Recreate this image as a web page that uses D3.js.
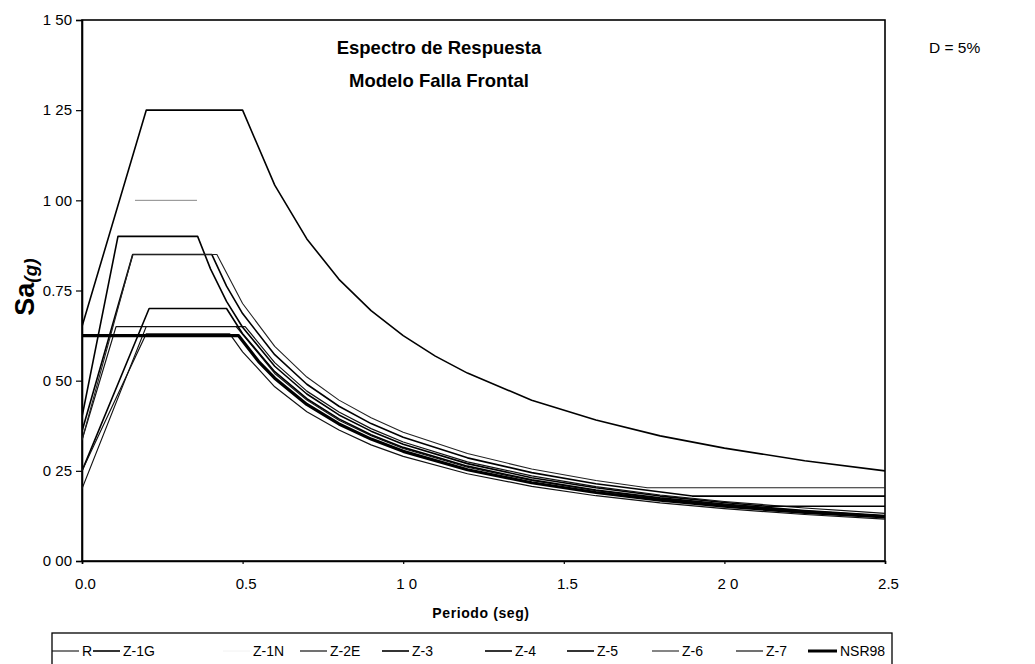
<!DOCTYPE html>
<html><head><meta charset="utf-8">
<script src="https://cdn.jsdelivr.net/npm/d3@7"></script>
<style>
body{margin:0;background:#fff;}
svg{display:block;font-family:"Liberation Sans",Arial,sans-serif;}
</style></head>
<body><svg id="c" width="1035" height="664"></svg>
<script>
// ---- data ----
const seriesNames = ["R","Z-1G","Z-1N","Z-2E","Z-3","Z-4","Z-5","Z-6","Z-7","NSR98"];
const T_R    = [0, 0.2, 0.48, 0.6, 0.7, 0.8, 0.9, 1.0, 1.2, 1.4, 1.6, 1.8, 2.0, 2.25, 2.5];
const Sa_R   = [0.20, 0.65, 0.65, 0.52, 0.446, 0.39, 0.347, 0.312, 0.26, 0.223, 0.195, 0.173, 0.156, 0.139, 0.125];
const T_Z1G  = [0, 0.2, 0.5, 0.6, 0.7, 0.8, 0.9, 1.0, 1.1, 1.2, 1.4, 1.6, 1.8, 2.0, 2.25, 2.5];
const Sa_Z1G = [0.65, 1.25, 1.25, 1.042, 0.893, 0.781, 0.694, 0.625, 0.568, 0.521, 0.446, 0.391, 0.347, 0.313, 0.278, 0.25];
const T_Z1N  = [0.165, 0.358];
const Sa_Z1N = [1.0, 1.0];
const T_Z2E  = [0, 0.106, 0.508, 0.6, 0.7, 0.8, 0.9, 1.0, 1.2, 1.4, 1.6, 1.8, 2.0, 2.25, 2.5];
const Sa_Z2E = [0.335, 0.65, 0.65, 0.55, 0.471, 0.413, 0.367, 0.33, 0.275, 0.236, 0.206, 0.183, 0.165, 0.147, 0.132];
const T_Z3   = [0, 0.112, 0.36, 0.4, 0.45, 0.5, 0.6, 0.7, 0.8, 0.9, 1.0, 1.2, 1.4, 1.6, 1.8, 2.0, 2.13, 2.5];
const Sa_Z3  = [0.40, 0.90, 0.90, 0.81, 0.72, 0.648, 0.54, 0.463, 0.405, 0.36, 0.324, 0.27, 0.231, 0.203, 0.18, 0.162, 0.152, 0.152];
const T_Z4   = [0, 0.158, 0.404, 0.45, 0.5, 0.6, 0.7, 0.8, 0.9, 1.0, 1.2, 1.4, 1.6, 1.9, 2.5];
const Sa_Z4  = [0.36, 0.85, 0.85, 0.762, 0.686, 0.572, 0.49, 0.429, 0.381, 0.343, 0.286, 0.245, 0.214, 0.18, 0.18];
const T_Z5   = [0, 0.209, 0.45, 0.5, 0.6, 0.7, 0.8, 0.9, 1.0, 1.2, 1.4, 1.6, 1.8, 2.0, 2.25, 2.5];
const Sa_Z5  = [0.25, 0.70, 0.70, 0.63, 0.525, 0.45, 0.394, 0.35, 0.315, 0.263, 0.225, 0.197, 0.175, 0.158, 0.14, 0.126];
const T_Z6   = [0, 0.158, 0.42, 0.5, 0.6, 0.7, 0.8, 0.9, 1.0, 1.2, 1.4, 1.6, 1.76, 2.5];
const Sa_Z6  = [0.335, 0.85, 0.85, 0.714, 0.595, 0.51, 0.446, 0.397, 0.357, 0.298, 0.255, 0.223, 0.203, 0.203];
const T_Z7   = [0, 0.2, 0.46, 0.5, 0.6, 0.7, 0.8, 0.9, 1.0, 1.2, 1.4, 1.6, 1.8, 2.0, 2.25, 2.5];
const Sa_Z7  = [0.25, 0.63, 0.63, 0.58, 0.483, 0.414, 0.363, 0.322, 0.29, 0.242, 0.207, 0.181, 0.161, 0.145, 0.129, 0.116];
const T_NSR  = [0, 0.487, 0.55, 0.6, 0.7, 0.8, 0.9, 1.0, 1.2, 1.4, 1.6, 1.8, 2.0, 2.25, 2.5];
const Sa_NSR = [0.625, 0.625, 0.553, 0.507, 0.434, 0.38, 0.338, 0.304, 0.253, 0.217, 0.19, 0.169, 0.152, 0.135, 0.122];

const yTickValues = [0, 0.25, 0.5, 0.75, 1.0, 1.25, 1.5];
const yTickLabels = ["0 00", "0 25", "0 50", "0.75", "1 00", "1 25", "1 50"];
const xTickValues = [0, 0.5, 1.0, 1.5, 2.0, 2.5];
const xTickLabels = ["0.0", "0.5", "1 0", "1.5", "2 0", "2.5"];

// ---- build ----
const periods = [T_R, T_Z1G, T_Z1N, T_Z2E, T_Z3, T_Z4, T_Z5, T_Z6, T_Z7, T_NSR];
const values  = [Sa_R, Sa_Z1G, Sa_Z1N, Sa_Z2E, Sa_Z3, Sa_Z4, Sa_Z5, Sa_Z6, Sa_Z7, Sa_NSR];
const styles = {
  "R":    {w:1.1, c:"#111"}, "Z-1G": {w:1.6, c:"#000"}, "Z-1N": {w:1.0, c:"#888", lc:"#f2f2f2"},
  "Z-2E": {w:1.2, c:"#111"}, "Z-3":  {w:1.6, c:"#000"}, "Z-4":  {w:1.6, c:"#000"},
  "Z-5":  {w:1.6, c:"#000"}, "Z-6":  {w:1.1, c:"#222"}, "Z-7":  {w:1.2, c:"#111"},
  "NSR98":{w:3.2, c:"#000"}
};
const series = seriesNames.map((n,i)=>({name:n, pts: periods[i].map((t,j)=>({t, v: values[i][j]}))}));

const svg = d3.select("#c");
const L=82, R=885, T=20, B=561;
const x = d3.scaleLinear().domain([0,2.5]).range([L,R]);
const y = d3.scaleLinear().domain([0,1.5]).range([B,T]);

svg.append("defs").append("clipPath").attr("id","pc")
  .append("rect").attr("x",L).attr("y",T-2).attr("width",R-L+2).attr("height",B-T+4);

// frame
svg.append("rect").attr("x",L).attr("y",T).attr("width",R-L).attr("height",B-T)
  .attr("fill","none").attr("stroke","#000").attr("stroke-width",1.6);

// axes
const ya = svg.append("g").attr("transform",`translate(${L},0)`)
  .call(d3.axisLeft(y).tickValues(yTickValues).tickFormat((d,i)=>yTickLabels[i]).tickSize(6).tickPadding(4));
const xa = svg.append("g").attr("transform",`translate(0,${B})`)
  .call(d3.axisBottom(x).tickValues(xTickValues).tickFormat((d,i)=>xTickLabels[i]).tickSize(3).tickPadding(14));
[ya,xa].forEach(a=>{
  a.select(".domain").attr("stroke","#000").attr("stroke-width",1.6);
  a.selectAll(".tick line").attr("stroke","#000").attr("stroke-width",1.2);
  a.selectAll(".tick text").attr("fill","#000").attr("font-size",15)
   .attr("font-family","'Liberation Sans',Arial,sans-serif");
});
xa.selectAll(".tick text").attr("dx",3);

// lines
const line = d3.line().x(d=>x(d.t)).y(d=>y(d.v));
svg.append("g").attr("clip-path","url(#pc)").selectAll("path").data(series).join("path")
  .attr("d",d=>line(d.pts)).attr("fill","none")
  .attr("stroke",d=>styles[d.name].c).attr("stroke-width",d=>styles[d.name].w)
  .attr("stroke-linejoin","round");

// titles
svg.append("text").attr("x",439).attr("y",54).attr("text-anchor","middle")
  .attr("font-weight","bold").attr("font-size",18.5).text("Espectro de Respuesta");
svg.append("text").attr("x",439).attr("y",87).attr("text-anchor","middle")
  .attr("font-weight","bold").attr("font-size",18.5).text("Modelo Falla Frontal");
svg.append("text").attr("x",929).attr("y",53).attr("font-size",15.5).text("D = 5%");

// axis titles
const yl = svg.append("text").attr("transform","translate(34,287) rotate(-90)")
  .attr("text-anchor","middle").attr("font-weight","bold");
yl.append("tspan").attr("font-size",27).text("Sa");
yl.append("tspan").attr("font-size",19).attr("font-style","italic").attr("dy",3).text("(g)");
svg.append("text").attr("x",481).attr("y",618).attr("text-anchor","middle")
  .attr("font-weight","bold").attr("font-size",14).attr("letter-spacing",0.6).text("Periodo (seg)");

// legend
svg.append("rect").attr("x",52).attr("y",633).attr("width",840).attr("height",40)
  .attr("fill","none").attr("stroke","#000").attr("stroke-width",1.3);
const legTextX = [82, 123, 253, 330, 412, 515, 597, 682, 766, 840];
const lg = svg.append("g").selectAll("g").data(seriesNames).join("g");
lg.append("line").attr("x1",(d,i)=>legTextX[i]- (i===9?32:30)).attr("x2",(d,i)=>legTextX[i]-3)
  .attr("y1",651).attr("y2",651)
  .attr("stroke",d=>styles[d].lc||styles[d].c).attr("stroke-width",d=>Math.min(styles[d].w,3));
lg.append("text").attr("x",(d,i)=>legTextX[i]).attr("y",656).attr("font-size",14).text(d=>d);
</script></body></html>
